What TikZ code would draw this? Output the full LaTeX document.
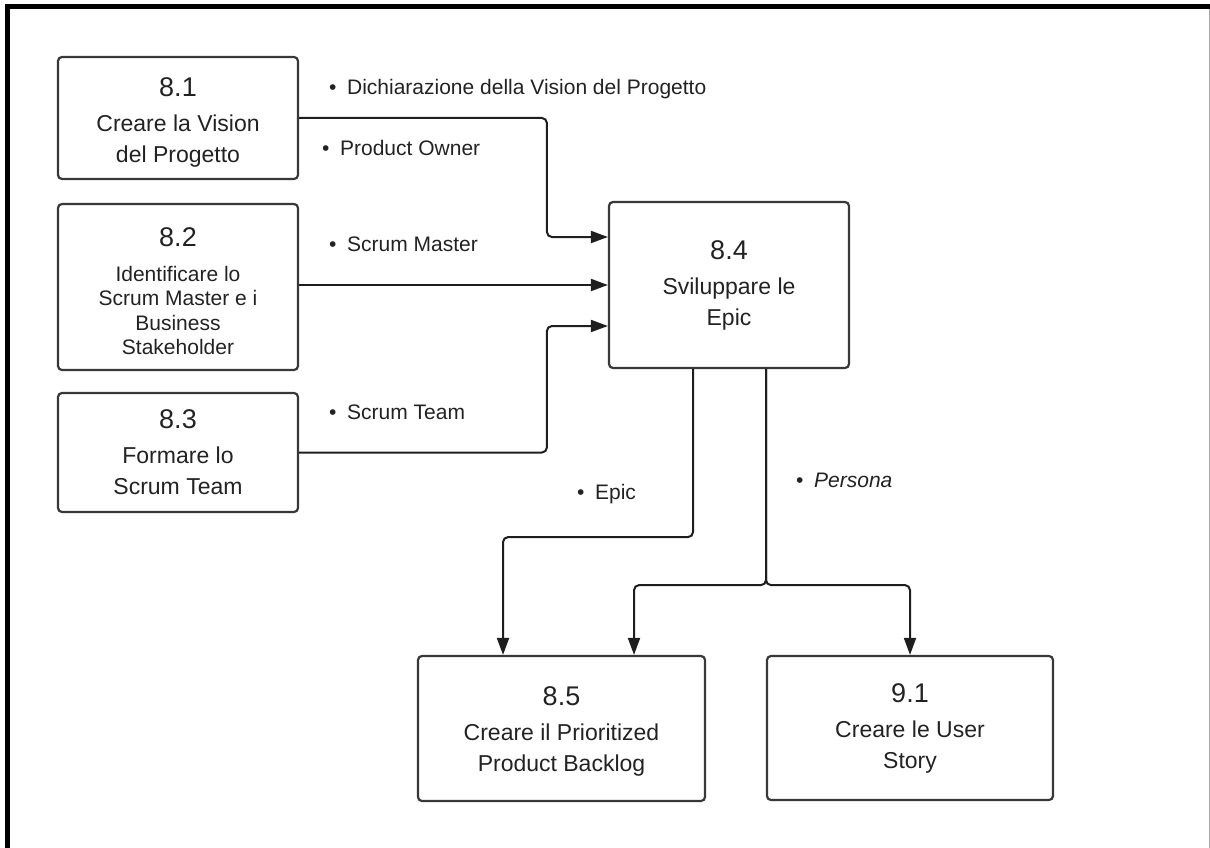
\documentclass[tikz,border=0pt]{standalone}
\usepackage{fontspec}
\setmainfont{Liberation Sans}
\usetikzlibrary{arrows.meta}

% type sizes used in the process boxes and the flow labels
\newcommand{\numsize}{\fontsize{27}{32}\selectfont}
\newcommand{\txtsize}{\fontsize{23}{31}\selectfont}
\newcommand{\smallsize}{\fontsize{21}{24.5}\selectfont}
\newcommand{\lblsize}{\fontsize{21}{25}\selectfont}
% invisible strut that pushes a box's text block down a little
\newcommand{\topstrut}[1]{\rule{0pt}{#1}}

\definecolor{boxline}{HTML}{383838}
\definecolor{flowcol}{HTML}{1E1E1E}
\definecolor{inkcol}{HTML}{222222}

\tikzset{
  procbox/.style={draw=boxline, line width=2.2pt, rounded corners=4pt,
    inner sep=0pt, align=center, text=inkcol, font=\txtsize},
  flow/.style={draw=flowcol, line width=2pt, rounded corners=5pt,
    -{Triangle[length=17pt,width=12pt]}},
  lbl/.style={anchor=base west, inner sep=0pt, text=inkcol, font=\lblsize},
}

\begin{document}
\begin{tikzpicture}[x=1pt, y=-1pt]
  \useasboundingbox (0,0) rectangle (1210,848);

  % page frame
  \fill[black] (5,4) rectangle (1210,9);
  \fill[black] (5,4) rectangle (10,848);
  \draw[gray!70, line width=1pt] (1209,9) -- (1209,848);

  % process boxes
  \node[procbox, minimum width=240pt, minimum height=122pt] (b81) at (178,118)
    {\topstrut{27pt}{\numsize 8.1}\\[4pt]Creare la Vision\\del Progetto};
  \node[procbox, font=\smallsize, minimum width=240pt, minimum height=166pt] (b82) at (178,287)
    {\topstrut{28pt}{\numsize 8.2}\\[10pt]Identificare lo\\Scrum Master e i\\Business\\Stakeholder};
  \node[procbox, minimum width=240pt, minimum height=119pt] (b83) at (178,452.5)
    {{\numsize 8.3}\\[4pt]Formare lo\\Scrum Team};
  \node[procbox, minimum width=240pt, minimum height=166pt] (b84) at (729,285)
    {{\numsize 8.4}\\[4pt]Sviluppare le\\Epic};
  \node[procbox, minimum width=287pt, minimum height=145pt] (b85) at (561.5,728.5)
    {\topstrut{24pt}{\numsize 8.5}\\[4pt]Creare il Prioritized\\Product Backlog};
  \node[procbox, minimum width=286pt, minimum height=144pt] (b91) at (910,728)
    {{\numsize 9.1}\\[4pt]Creare le User\\Story};

  % inputs to 8.4
  \draw[flow] (b81.east) -| ([xshift=-61pt,yshift=48pt]b84.west) -- ([yshift=48pt]b84.west);
  \draw[flow] (b82.east |- b84.west) -- (b84.west);
  \draw[flow] (b83.east) -| ([xshift=-61pt,yshift=-41pt]b84.west) -- ([yshift=-41pt]b84.west);

  % outputs of 8.4
  \draw[flow] ([xshift=-36pt]b84.south) -- ++(0,168) -| ([xshift=-58.5pt]b85.north);
  \draw[flow] ([xshift=37pt]b84.south) -- ++(0,216) -| ([xshift=72.5pt]b85.north);
  \draw[flow] ([xshift=37pt]b84.south) -- ++(0,216) -| (b91.north);

  % flow labels
  \node[lbl] (l1) at (328.8,94.5) {\textbullet\hspace{10.8pt}Dichiarazione della Vision del Progetto};
  \node[lbl] (l2) at (321.8,155.5) {\textbullet\hspace{10.8pt}Product Owner};
  \node[lbl] (l3) at (328.8,251.5) {\textbullet\hspace{10.8pt}Scrum Master};
  \node[lbl] (l4) at (328.8,419) {\textbullet\hspace{10.8pt}Scrum Team};
  \node[lbl] (l5) at (576.8,499.5) {\textbullet\hspace{10.8pt}Epic};
  \node[lbl] (l6) at (795.8,487.5) {\textbullet\hspace{10.8pt}\textit{Persona}};
\end{tikzpicture}
\end{document}
